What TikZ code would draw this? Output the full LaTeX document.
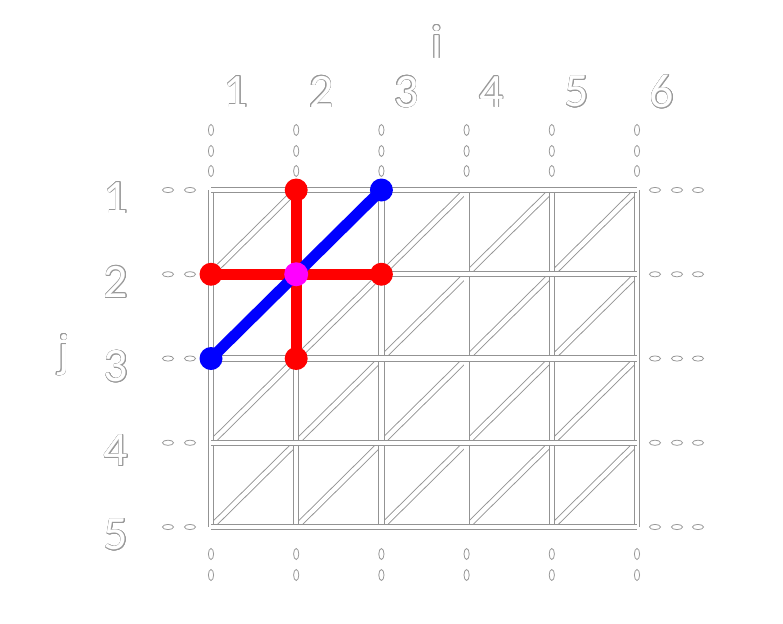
\documentclass[tikz,border=0pt]{standalone}
\usepackage{fontspec}
\setmainfont{Carlito}
\usepackage{contour}
\contourlength{0.3pt}
\usetikzlibrary{calc}
\definecolor{centremag}{RGB}{255,0,255}
\newcommand\hollow[1]{\textcolor{white}{\contour{gray!80}{#1}}}
\tikzset{
  gridline/.style={draw=gray!85, line width=0.45pt, double=white, double distance=2.2pt},
  dotmark/.style={draw=gray!80, line width=0.4pt, fill=white},
  lbl/.style={font=\fontsize{24}{28}\selectfont, inner sep=0pt},
  redline/.style={red, line width=5.5pt},
  blueline/.style={blue, line width=5.5pt},
  reddot/.style={circle, fill=red, minimum size=11.5pt, inner sep=0pt},
  bluedot/.style={circle, fill=blue, minimum size=11.5pt, inner sep=0pt},
  middot/.style={circle, fill=centremag, minimum size=12pt, inner sep=0pt}
}
\begin{document}
\begin{tikzpicture}[x=0.5pt,y=-0.5pt]
  \useasboundingbox (0,0) rectangle (783,623);
  % grid points
  \foreach \i in {1,...,6}
    \foreach \j in {1,...,5}
      \coordinate (p\i\j) at ({211+85.2*(\i-1)},{190+84.25*(\j-1)});

  % dotted extensions
  \foreach \i in {1,...,6} {
    \foreach \d in {19,39,60}
      \draw[dotmark] ($(p\i1)+(0,-\d)$) ellipse [x radius=2.6, y radius=5.5];
    \foreach \d in {27,48}
      \draw[dotmark] ($(p\i5)+(0,\d)$) ellipse [x radius=2.6, y radius=5.5];
  }
  \foreach \j in {1,...,5} {
    \foreach \d in {21,43}
      \draw[dotmark] ($(p1\j)+(-\d,0)$) ellipse [x radius=5.5, y radius=2.6];
    \foreach \d in {18,40,61}
      \draw[dotmark] ($(p6\j)+(\d,0)$) ellipse [x radius=5.5, y radius=2.6];
  }

  % cell diagonals
  \foreach \i in {1,...,5}
    \foreach \j in {2,...,5} {
      \pgfmathtruncatemacro\ii{\i+1}
      \pgfmathtruncatemacro\jj{\j-1}
      \draw[gridline] (p\i\j) -- (p\ii\jj);
    }
  % grid lines
  \foreach \i in {1,...,6}
    \draw[gridline] (p\i1) -- (p\i5);
  \foreach \j in {1,...,5}
    \draw[gridline] (p1\j) -- (p6\j);

  % labels
  \foreach \i in {1,...,6}
    \node[lbl] (col\i) at ({236+85.2*(\i-1)},92) {\hollow{\i}};
  \foreach \j in {1,...,5}
    \node[lbl] (row\j) at (116,{198+84.25*(\j-1)}) {\hollow{\j}};
  \node[lbl] (ilabel) at (437,42) {\hollow{i}};
  \node[lbl] (jlabel) at (64,355) {\hollow{j}};

  % stencil
  \draw[redline] (p21) -- (p23);
  \draw[redline] (p12) -- (p32);
  \draw[blueline] (p13) -- (p31);
  \node[reddot] (north) at (p21) {};
  \node[reddot] (west) at (p12) {};
  \node[reddot] (east) at (p32) {};
  \node[reddot] (south) at (p23) {};
  \node[bluedot] (lower) at (p13) {};
  \node[bluedot] (upper) at (p31) {};
  \node[middot] (centre) at (p22) {};
\end{tikzpicture}
\end{document}
